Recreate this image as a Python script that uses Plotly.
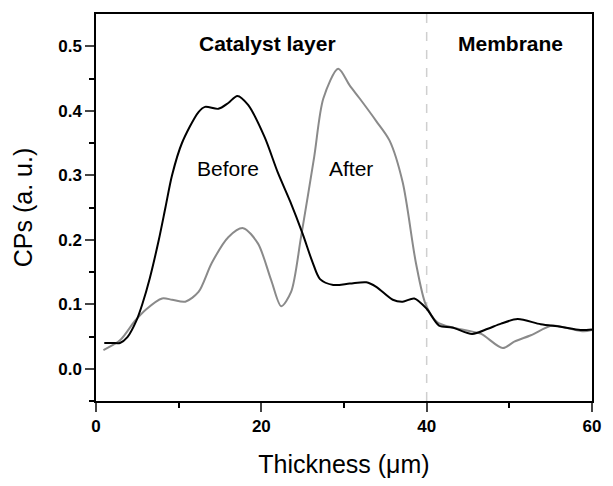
import plotly.graph_objects as go

before_x = [1, 2, 2.9, 3.8, 4.9, 5.6, 6.5, 7.6, 8.4, 9.2, 10.4, 12.4, 13.2, 14.8, 16, 17.1, 18.4,
            20.4, 22, 23.5, 25, 26.2, 27.1, 28.7, 30.7, 32.7, 33.9, 35.9, 37.1, 38.5, 40, 41.5,
            43.1, 45.5, 47.4, 49, 51, 53.8, 56.2, 58.6, 60]
before_y = [0.040, 0.040, 0.040, 0.049, 0.075, 0.100, 0.140, 0.200, 0.250, 0.300, 0.350, 0.398,
            0.406, 0.403, 0.412, 0.423, 0.409, 0.359, 0.304, 0.259, 0.209, 0.165, 0.139, 0.130,
            0.132, 0.134, 0.127, 0.107, 0.104, 0.109, 0.093, 0.067, 0.064, 0.054, 0.062, 0.070,
            0.077, 0.069, 0.065, 0.060, 0.061]

after_x = [0.9, 2.9, 4.7, 6.05, 8.0, 9.2, 10.8, 12.4, 14, 16, 17.8, 19.6, 21.2, 22.4, 23.6, 24.8,
           26.4, 27.5, 29.3, 30.7, 31.9, 33.9, 35.5, 37.1, 38.7, 39.9, 41.3, 43.1, 45, 46.6,
           49.2, 50.6, 52.6, 55.2, 57, 59, 60]
after_y = [0.029, 0.044, 0.074, 0.092, 0.109, 0.107, 0.104, 0.119, 0.164, 0.204, 0.218, 0.194,
           0.137, 0.097, 0.119, 0.204, 0.329, 0.419, 0.465, 0.439, 0.419, 0.384, 0.354, 0.289,
           0.164, 0.099, 0.072, 0.064, 0.059, 0.054, 0.032, 0.042, 0.052, 0.067, 0.063, 0.058,
           0.060]

boundary_x = 40
annotations_text = [("Catalyst layer", 20.8, 0.505, True), ("Membrane", 50.2, 0.505, True),
                    ("Before", 16, 0.311, False), ("After", 30.9, 0.311, False)]

FONT = "Liberation Sans, Arial"

fig = go.Figure()
fig.add_vline(x=boundary_x, line=dict(color="#cfcfcf", width=1.5, dash="dash"), layer="below")
fig.add_trace(go.Scatter(x=after_x, y=after_y, mode="lines",
                         line=dict(color="#8a8a8a", width=2, shape="spline", smoothing=0.8)))
fig.add_trace(go.Scatter(x=before_x, y=before_y, mode="lines",
                         line=dict(color="#000000", width=2, shape="spline", smoothing=0.8)))

for txt, x, y, bold in annotations_text:
    fig.add_annotation(x=x, y=y, text=txt, showarrow=False,
                       font=dict(family=FONT, size=21, color="black",
                                 weight="bold" if bold else "normal"))

fig.update_layout(
    width=613, height=486, showlegend=False,
    margin=dict(l=96, r=14, t=13, b=73),
    plot_bgcolor="white", paper_bgcolor="white",
    font=dict(family=FONT, color="black"),
)
fig.update_xaxes(range=[0, 60], tickvals=[0, 20, 40, 60], ticks="outside", ticklen=9, tickwidth=1.5,
                 showline=True, linecolor="black", linewidth=1.5, mirror=True, showgrid=False,
                 zeroline=False, tickfont=dict(size=17, family=FONT, weight="bold"),
                 minor=dict(tickvals=[10, 30, 50], ticks="outside", ticklen=5, tickwidth=1.5,
                            tickcolor="black", showgrid=False),
                 title=dict(text="Thickness (μm)", font=dict(size=25), standoff=20))
fig.update_yaxes(range=[-0.05, 0.55], tickvals=[0, 0.1, 0.2, 0.3, 0.4, 0.5], tickformat=".1f",
                 ticks="outside", ticklen=9, tickwidth=1.5,
                 showline=True, linecolor="black", linewidth=1.5, mirror=True, showgrid=False,
                 zeroline=False, tickfont=dict(size=17, family=FONT, weight="bold"),
                 minor=dict(tickvals=[-0.05, 0.05, 0.15, 0.25, 0.35, 0.45], ticks="outside",
                            ticklen=5, tickwidth=1.5, tickcolor="black", showgrid=False),
                 title=dict(text="CPs (a. u.)", font=dict(size=25), standoff=18))

fig.write_html("out.html")
